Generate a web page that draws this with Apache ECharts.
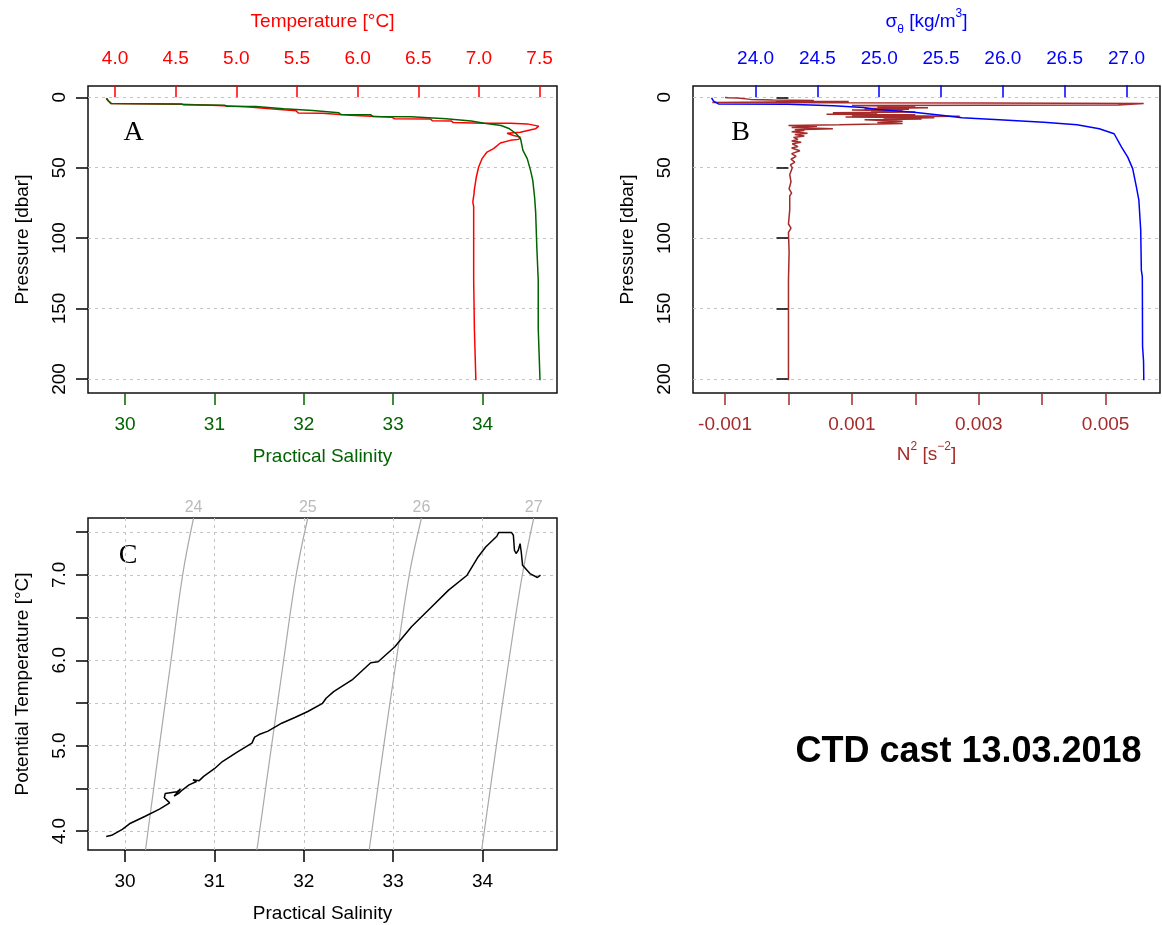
<!DOCTYPE html>
<html><head><meta charset="utf-8">
<script src="https://cdn.jsdelivr.net/npm/echarts@6/dist/echarts.min.js"></script>
<style>html,body{margin:0;padding:0;background:#fff}#c{width:1162px;height:925px}</style>
</head><body><div id="c"></div>
<script>
// ---------------- data ----------------
// Panel A: temperature profile
const tempPressure = [0.7,2.5,4.5,4.9,5.6,5.8,6.6,6.8,8.0,8.2,9.4,9.6,11.2,11.4,12.6,12.8,14.0,14.2,15.2,15.4,16.6,16.8,18.0,18.4,18.4,18.9,20.5,22.4,23.6,24.8,25.5,26.4,27.1,28.3,29.9,30.6,32.5,36.5,38.9,43.6,49.5,56.6,66,68.4,74.3,77.8,129.7,130.2,165,166.3,201];
const tempValues = [3.927,3.942,3.967,4.545,4.561,4.850,4.866,5.081,5.097,5.279,5.295,5.493,5.510,5.708,5.724,5.939,5.955,6.285,6.302,6.599,6.616,6.772,6.789,7.036,7.259,7.397,7.493,7.466,7.479,7.342,7.232,7.226,7.286,7.342,7.328,7.259,7.177,7.121,7.067,7.026,6.998,6.979,6.962,6.960,6.950,6.957,6.957,6.963,6.963,6.972,6.975];
// Panel A: salinity profile
const salPressure = [0.7,2.5,4.5,4.7,5.4,5.6,6.4,6.6,7.9,8.1,9.2,9.4,10.8,11.0,12.3,12.5,13.7,13.9,15.1,15.3,16.6,16.8,17.8,18.4,20.0,22.4,25.9,29.4,37.7,43.6,51.9,59,70.8,81.4,106.2,129.7,164,165,201];
const salValues = [29.793,29.814,29.848,30.632,30.655,31.114,31.137,31.462,31.484,31.776,31.798,32.101,32.123,32.392,32.415,32.751,32.774,33.200,33.222,33.592,33.614,33.872,33.894,34.021,34.208,34.302,34.377,34.425,34.452,34.500,34.537,34.562,34.582,34.594,34.607,34.623,34.623,34.643,34.643];
// Panel B: sigma-theta profile
const sigmaPressure = [0.4,2.8,4.0,4.7,4.9,5.9,6.1,7.1,7.3,8.6,10.6,13.0,14.6,16.0,17.7,19.5,22.4,25.9,35.4,42.5,50.7,63.7,73.1,94.3,122.7,127.4,177,187.5,201];
const sigmaValues = [23.644,23.660,23.675,23.700,24.260,24.270,24.630,24.630,24.870,24.980,25.280,25.520,25.670,25.970,26.330,26.600,26.780,26.900,26.960,27.010,27.050,27.080,27.100,27.115,27.120,27.128,27.130,27.138,27.140];
// Panel B: N^2 profile
const n2Pressure = [0.2,0.4,0.6,1.5,2.0,2.3,2.6,3.0,3.3,3.8,4.1,4.5,5.5,5.9,6.5,7.0,7.5,8.0,8.5,9.0,9.5,10.0,10.5,11.0,11.5,12.0,12.5,13.0,13.5,14.0,14.5,15.0,15.5,16.0,17.0,18.0,18.7,19.5,20.0,20.5,21.5,22.4,23.0,23.6,24.5,25.5,26.5,27.5,28.5,30,31,32,33,35,36,38,40,42,44,46,48,50,55,60,65,68,70,80,90,93,96,110,130,165,166,167,201];
const n2Values = [-0.00100,-0.00095,-0.00080,-0.00060,-0.00025,0.00040,-0.00020,0.00095,-0.00025,-0.00120,0.00305,0.00560,0.00520,0.00100,0.00200,0.00140,0.00220,0.00120,0.00190,0.00100,0.00180,0.00130,0.00200,0.00070,0.00140,0.00060,0.00200,0.00100,0.00270,0.00090,0.00230,0.00150,0.00210,0.00120,0.00180,0.00140,0.00180,0.00080,0.00000,0.00045,0.00005,0.00070,0.00010,0.00025,0.00005,0.00030,0.00010,0.00025,0.00008,0.00015,0.00005,0.00020,0.00006,0.00015,0.00005,0.00018,0.00005,0.00012,0.00004,0.00010,0.00003,0.00006,0.00002,0.00004,0.00001,0.00005,0.00002,0.00002,0.00000,0.00004,0.00000,0.00001,0.00000,0.00000,0.00003,0.00000,0.00000];
// Panel C: T-S curve
const tsSalinity = [29.79,29.85,29.97,30.05,30.22,30.386,30.50,30.44,30.45,30.58,30.62,30.55,30.60,30.64,30.717,30.80,30.76,30.83,30.88,30.883,31.00,31.09,31.25,31.42,31.45,31.50,31.60,31.753,31.90,32.045,32.21,32.25,32.334,32.54,32.749,32.832,33.019,33.205,33.412,33.62,33.827,33.95,34.035,34.16,34.18,34.325,34.345,34.357,34.375,34.40,34.42,34.433,34.448,34.53,34.614,34.648];
const tsTheta = [3.937,3.95,4.02,4.085,4.17,4.257,4.33,4.39,4.44,4.46,4.49,4.41,4.44,4.48,4.541,4.58,4.60,4.59,4.64,4.658,4.73,4.814,4.92,5.029,5.10,5.13,5.17,5.263,5.33,5.40,5.496,5.555,5.632,5.769,5.971,5.983,6.158,6.392,6.607,6.821,6.996,7.21,7.327,7.452,7.495,7.495,7.464,7.288,7.25,7.288,7.366,7.268,7.112,7.015,6.969,6.996];
// Panel C: isopycnals (salinity at given theta)
const isoLevels = [24, 25, 26, 27];
const isoTheta = [3.778, 5.0, 6.0, 7.0, 7.666];
const isoSal24 = [30.229, 30.385, 30.515, 30.645, 30.767];
const isoSal25 = [31.476, 31.64, 31.775, 31.915, 32.045];
const isoSal26 = [32.732, 32.895, 33.035, 33.18, 33.317];
const isoSal27 = [33.99, 34.155, 34.295, 34.445, 34.573];
// tick values
const pressureTicks = [0, 50, 100, 150, 200];
const tempTicks = [4.0, 4.5, 5.0, 5.5, 6.0, 6.5, 7.0, 7.5];
const salTicks = [30, 31, 32, 33, 34];
const sigmaTicks = [24.0, 24.5, 25.0, 25.5, 26.0, 26.5, 27.0];
const n2Ticks = [-0.001, 0, 0.001, 0.002, 0.003, 0.004, 0.005];
const n2Labels = [-0.001, 0.001, 0.003, 0.005];
const thetaTicks = [4.0, 4.5, 5.0, 5.5, 6.0, 6.5, 7.0, 7.5];
const thetaLabels = [4.0, 5.0, 6.0, 7.0];

// ---------------- styling ----------------
const FONT = '"Liberation Sans", Arial, Helvetica, sans-serif';
const RED = '#ff0000', GREEN = '#006400', BLUE = '#0000ff', BROWN = '#a52a2a', ISO = '#a9a9a9';
const GRIDLINE = { show: true, lineStyle: { color: '#c4c4c4', type: [3, 4], width: 1 } };
function pairs(xs, ys) { return xs.map((x, i) => [x, ys[i]]); }
function tick(vals, color) { return { show: true, length: 12, customValues: vals, lineStyle: { color: color, width: 1.5 } }; }
function lab(vals, color, margin, fmt, rot) {
  const o = { show: true, customValues: vals, color: color, fontSize: 19, fontFamily: FONT, margin: margin, hideOverlap: false };
  if (fmt) o.formatter = fmt;
  if (rot) o.rotate = rot;
  return o;
}
const f1 = v => Number(v).toFixed(1);
const gridBox = { show: true, borderColor: '#111', borderWidth: 1.5, backgroundColor: 'transparent' };

function pressureAxis(gi) {
  return {
    type: 'value', gridIndex: gi, inverse: true, min: -8, max: 210, position: 'left',
    axisLine: { show: false }, axisTick: tick(pressureTicks, '#000'),
    axisLabel: lab(pressureTicks, '#000', 19, null, 90),
    splitLine: GRIDLINE,
    name: 'Pressure [dbar]', nameLocation: 'middle', nameGap: 56, nameRotate: 90,
    nameTextStyle: { fontSize: 19, color: '#000', fontFamily: FONT }
  };
}

const option = {
  animation: false,
  backgroundColor: '#fff',
  grid: [
    Object.assign({ left: 88, top: 86, width: 469, height: 307 }, gridBox),
    Object.assign({ left: 693, top: 86, width: 467, height: 307 }, gridBox),
    Object.assign({ left: 88, top: 518, width: 469, height: 332 }, gridBox)
  ],
  xAxis: [
    { type: 'value', gridIndex: 0, position: 'top', min: 3.777, max: 7.644,
      axisLine: { show: false }, axisTick: tick(tempTicks, RED), axisLabel: lab(tempTicks, RED, 18, f1),
      splitLine: { show: false },
      name: 'Temperature [°C]', nameLocation: 'middle', nameGap: 55,
      nameTextStyle: { fontSize: 19, color: RED, fontFamily: FONT } },
    { type: 'value', gridIndex: 0, position: 'bottom', min: 29.586, max: 34.833,
      axisLine: { show: false }, axisTick: tick(salTicks, GREEN), axisLabel: lab(salTicks, GREEN, 22),
      splitLine: { show: false },
      name: 'Practical Salinity', nameLocation: 'middle', nameGap: 54,
      nameTextStyle: { fontSize: 19, color: GREEN, fontFamily: FONT } },
    { type: 'value', gridIndex: 1, position: 'top', min: 23.494, max: 27.271,
      axisLine: { show: false }, axisTick: tick(sigmaTicks, BLUE), axisLabel: lab(sigmaTicks, BLUE, 18, f1),
      splitLine: { show: false },
      name: '{a|σ}{b|θ}{a| [kg}{a|/}{a|m}{c|3}{a|]}', nameLocation: 'middle', nameGap: 50,
      nameTextStyle: { fontSize: 19, color: BLUE, fontFamily: FONT,
        rich: { a: { fontSize: 19, color: BLUE, fontFamily: FONT, lineHeight: 28 },
                b: { fontSize: 12, color: BLUE, fontFamily: FONT, lineHeight: 14, verticalAlign: 'bottom' },
                c: { fontSize: 12, color: BLUE, fontFamily: FONT, lineHeight: 14, verticalAlign: 'top' } } } },
    { type: 'value', gridIndex: 1, position: 'bottom', min: -0.001505, max: 0.005857,
      axisLine: { show: false }, axisTick: tick(n2Ticks, BROWN), axisLabel: lab(n2Labels, BROWN, 22, v => String(Number(v))),
      splitLine: { show: false },
      name: '{a|N}{c|2}{a| [s}{c|−2}{a|]}', nameLocation: 'middle', nameGap: 48,
      nameTextStyle: { fontSize: 19, color: BROWN, fontFamily: FONT,
        rich: { a: { fontSize: 19, color: BROWN, fontFamily: FONT, lineHeight: 28 },
                c: { fontSize: 12, color: BROWN, fontFamily: FONT, lineHeight: 14, verticalAlign: 'top' } } } },
    { type: 'value', gridIndex: 2, position: 'bottom', min: 29.586, max: 34.833,
      axisLine: { show: false }, axisTick: tick(salTicks, '#000'), axisLabel: lab(salTicks, '#000', 22),
      splitLine: GRIDLINE,
      name: 'Practical Salinity', nameLocation: 'middle', nameGap: 54,
      nameTextStyle: { fontSize: 19, color: '#000', fontFamily: FONT } }
  ],
  yAxis: [
    pressureAxis(0),
    pressureAxis(1),
    { type: 'value', gridIndex: 2, min: 3.778, max: 7.666, position: 'left',
      axisLine: { show: false }, axisTick: tick(thetaTicks, '#000'),
      axisLabel: lab(thetaLabels, '#000', 19, f1, 90),
      splitLine: GRIDLINE,
      name: 'Potential Temperature [°C]', nameLocation: 'middle', nameGap: 56, nameRotate: 90,
      nameTextStyle: { fontSize: 19, color: '#000', fontFamily: FONT } }
  ],
  series: [
    { type: 'line', xAxisIndex: 0, yAxisIndex: 0, data: pairs(tempValues, tempPressure), symbol: 'none', silent: true,
      lineStyle: { color: RED, width: 1.5 }, itemStyle: { color: RED } },
    { type: 'line', xAxisIndex: 1, yAxisIndex: 0, data: pairs(salValues, salPressure), symbol: 'none', silent: true,
      lineStyle: { color: GREEN, width: 1.5 }, itemStyle: { color: GREEN } },
    { type: 'line', xAxisIndex: 3, yAxisIndex: 1, data: pairs(n2Values, n2Pressure), symbol: 'none', silent: true,
      lineStyle: { color: BROWN, width: 1.5 }, itemStyle: { color: BROWN } },
    { type: 'line', xAxisIndex: 2, yAxisIndex: 1, data: pairs(sigmaValues, sigmaPressure), symbol: 'none', silent: true,
      lineStyle: { color: BLUE, width: 1.5 }, itemStyle: { color: BLUE } }
  ].concat([isoSal24, isoSal25, isoSal26, isoSal27].map(s => ({
      type: 'line', xAxisIndex: 4, yAxisIndex: 2, data: pairs(s, isoTheta), symbol: 'none', silent: true, smooth: 0.4,
      lineStyle: { color: ISO, width: 1.2 }, itemStyle: { color: ISO }
  }))).concat([
    { type: 'scatter', xAxisIndex: 4, yAxisIndex: 2, silent: true, symbolSize: 1, clip: false,
      itemStyle: { color: 'rgba(0,0,0,0)' },
      data: [isoSal24, isoSal25, isoSal26, isoSal27].map((s, i) => ({ value: [s[s.length - 1], isoTheta[isoTheta.length - 1]], name: String(isoLevels[i]) })),
      label: { show: true, position: 'top', distance: 2, formatter: p => p.name, color: ISO, fontSize: 16, fontFamily: FONT } },
    { type: 'line', xAxisIndex: 4, yAxisIndex: 2, data: pairs(tsSalinity, tsTheta), symbol: 'none', silent: true,
      lineStyle: { color: '#000', width: 1.5 }, itemStyle: { color: '#000' } }
  ]),
  graphic: [
    { type: 'text', x: 133.5, y: 132.5, style: { text: 'A', font: '28px "Liberation Serif", "Times New Roman", serif', fill: '#000', align: 'center', verticalAlign: 'middle' } },
    { type: 'text', x: 740.5, y: 132.5, style: { text: 'B', font: '28px "Liberation Serif", "Times New Roman", serif', fill: '#000', align: 'center', verticalAlign: 'middle' } },
    { type: 'text', x: 128, y: 556, style: { text: 'C', font: '28px "Liberation Serif", "Times New Roman", serif', fill: '#000', align: 'center', verticalAlign: 'middle' } },
    { type: 'text', x: 968.5, y: 752, style: { text: 'CTD cast 13.03.2018', font: 'bold 36px "Liberation Sans", Arial, sans-serif', fill: '#000', align: 'center', verticalAlign: 'middle' } }
  ]
};
const chart = echarts.init(document.getElementById('c'), null, { renderer: 'canvas' });
chart.setOption(option);
</script>
</body></html>
